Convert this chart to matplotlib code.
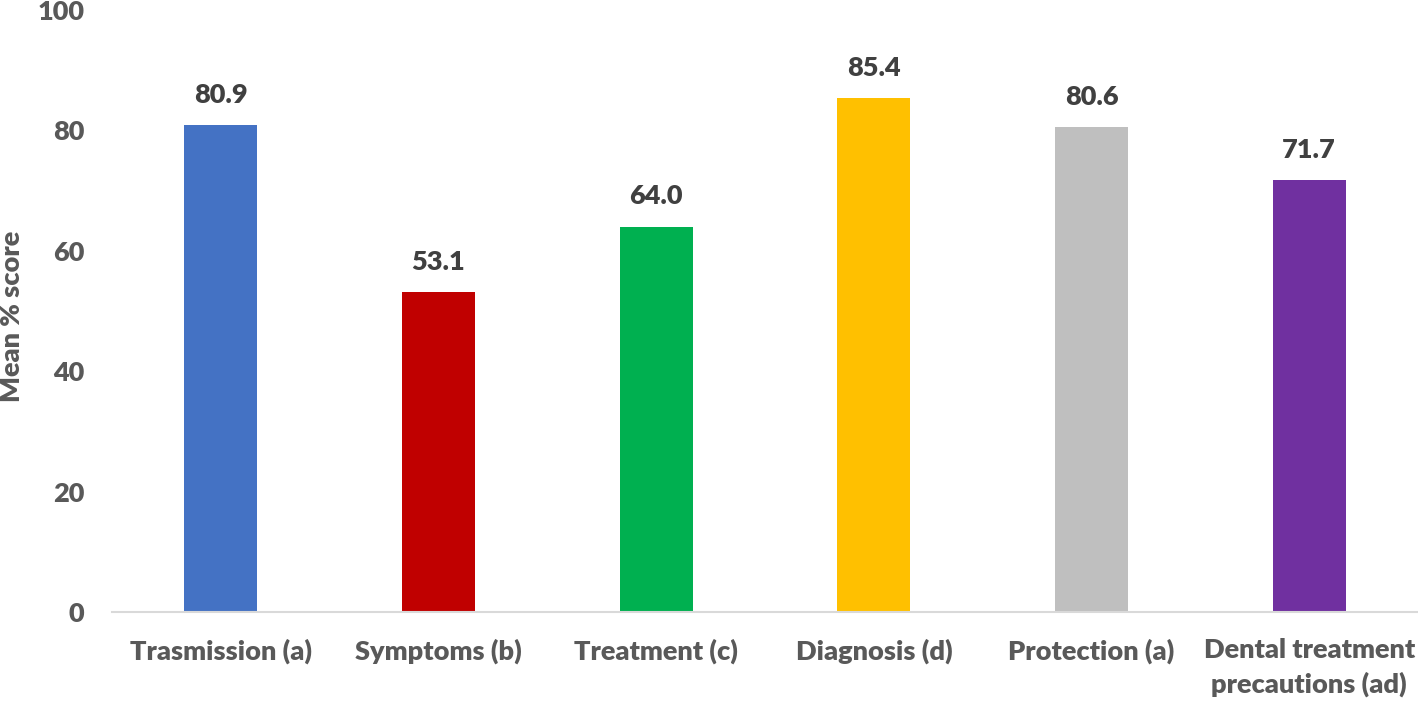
import matplotlib.pyplot as plt

categories = ['Trasmission (a)', 'Symptoms (b)', 'Treatment (c)', 'Diagnosis (d)',
              'Protection (a)', 'Dental treatment\nprecautions (ad)']
scores = [80.9, 53.1, 64.0, 85.4, 80.6, 71.7]
bar_colors = ['#4472C4', '#C00000', '#00B050', '#FFC000', '#BFBFBF', '#7030A0']
y_ticks = [0, 20, 40, 60, 80, 100]

plt.rcParams['font.family'] = ['Lato', 'DejaVu Sans']
plt.rcParams['font.weight'] = 'heavy'

fig = plt.figure(figsize=(14.18, 7.01), dpi=100)
ax = fig.add_axes([112 / 1418, 1 - 612 / 701, 1 - 112 / 1418, 602 / 701])

x = range(len(categories))
bars = ax.bar(x, scores, width=0.335, color=bar_colors, zorder=2)

for b, v in zip(bars, scores):
    ax.annotate(f'{v:.1f}', (b.get_x() + b.get_width() / 2, v),
                xytext=(0, 16), textcoords='offset points',
                ha='center', va='baseline', fontsize=19.5, fontweight='heavy', color='#404040')

ax.set_xlim(-0.5, len(categories) - 0.5)
ax.set_ylim(0, 100)
ax.set_yticks(y_ticks)
ax.set_xticks(list(x))
ax.set_xticklabels(categories, fontsize=19.5, fontweight='heavy', color='#595959', linespacing=1.45)
ax.tick_params(axis='y', length=0, pad=20, labelsize=19.5, labelcolor='#595959')
ax.tick_params(axis='x', length=0, pad=19)
for lbl in ax.get_yticklabels():
    lbl.set_fontweight('heavy')

for s in ['top', 'right', 'left']:
    ax.spines[s].set_visible(False)
ax.spines['bottom'].set_color('#D9D9D9')
ax.spines['bottom'].set_linewidth(1.5)

fig.text(12 / 1418, 1 - 316 / 701, 'Mean % score', rotation=90, ha='center', va='center',
         fontsize=19.5, fontweight='heavy', color='#595959')

fig.savefig('out.png', dpi=100)
